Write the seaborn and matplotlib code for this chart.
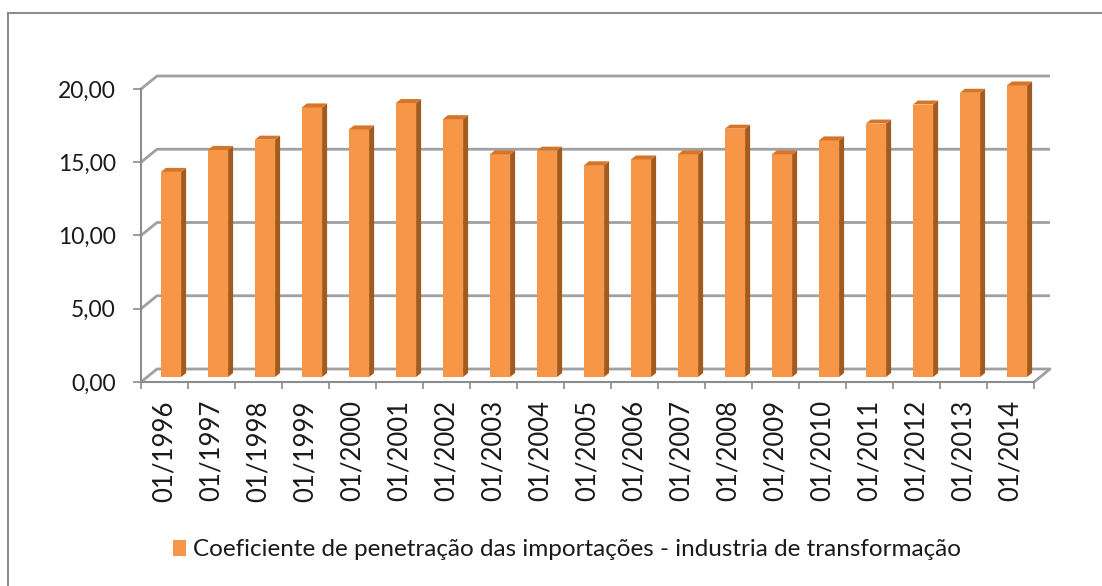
import matplotlib
matplotlib.use("Agg")
import matplotlib.pyplot as plt
import seaborn as sns
import numpy as np
import pandas as pd
from matplotlib.patches import Polygon, Rectangle

years = ["01/1996", "01/1997", "01/1998", "01/1999", "01/2000", "01/2001", "01/2002",
         "01/2003", "01/2004", "01/2005", "01/2006", "01/2007", "01/2008", "01/2009",
         "01/2010", "01/2011", "01/2012", "01/2013", "01/2014"]
values = [14.0, 15.5, 16.2, 18.4, 16.9, 18.7, 17.6, 15.2, 15.45, 14.45,
          14.85, 15.2, 16.95, 15.2, 16.15, 17.3, 18.6, 19.4, 19.9]
y_ticks = [0, 5, 10, 15, 20]
series_name = "Coeficiente de penetração das importações - industria de transformação"

FRONT = "#f79646"
SIDE = "#a35a1e"
TOP = "#d5752a"
GRID = "#a0a0a0"
AXIS = "#8c8c8c"
TEXT = "#1a1a1a"

W, H, DPI = 1102, 586, 100

sns.set_theme(style="white")
plt.rcParams["font.family"] = ["Lato", "DejaVu Sans"]

fig = plt.figure(figsize=(W / DPI, H / DPI), dpi=DPI)
fig.patch.set_facecolor("white")
ax = fig.add_axes([141 / W, (H - 382) / H, 893 / W, 293 / H])

df = pd.DataFrame({"ano": years, "valor": values})
sns.barplot(data=df, x="ano", y="valor", color=FRONT, saturation=1, width=0.43,
            linewidth=0, ax=ax, label=series_name, zorder=3)
ax.set_xlim(-0.5, len(years) - 0.5)
ax.set_ylim(0, 20)

# pixel offsets -> data units (fake 3d look)
ux = 893 / len(years)
uy = 293 / 20


def px(dx, dy):
    return dx / ux, dy / uy


bx, by = px(6.5, 5)
dx, dy = px(5, 4)
wx, wy = px(16, 13)

# back wall gridlines with left-side diagonals
x_left, x_right = -0.5, len(years) - 0.5
for v in y_ticks:
    ax.plot([x_left, x_left + wx, x_right + wx], [v, v + wy, v + wy],
            color=GRID, lw=2.0, zorder=1, clip_on=False, solid_capstyle="butt")
ax.plot([x_right, x_right + wx], [0, wy], color=GRID, lw=2.0, zorder=1, clip_on=False)

for p in ax.patches:
    x0, w, h = p.get_x(), p.get_width(), p.get_height()
    p.set_x(x0 + bx)
    p.set_y(by)
    p.set_clip_on(False)
    xa, xb = x0 + bx, x0 + bx + w
    side = Polygon([(xb, by), (xb, by + h), (xb + dx, by + h + dy), (xb + dx, by + dy)],
                   closed=True, facecolor=SIDE, edgecolor="none", zorder=3, clip_on=False)
    top = Polygon([(xa, by + h), (xb, by + h), (xb + dx, by + h + dy), (xa + dx, by + h + dy)],
                  closed=True, facecolor=TOP, edgecolor="none", zorder=3, clip_on=False)
    ax.add_patch(side)
    ax.add_patch(top)

for s in ["top", "right"]:
    ax.spines[s].set_visible(False)
for s in ["left", "bottom"]:
    ax.spines[s].set_color(AXIS)
    ax.spines[s].set_linewidth(1.5)
    ax.spines[s].set_zorder(4)

ax.set_yticks(y_ticks)
ax.set_yticklabels([f"{v:.2f}".replace(".", ",") for v in y_ticks])
ax.set_xticks(np.arange(-0.5, len(years)), minor=True)
ax.tick_params(left=True, bottom=True, which="both")
ax.tick_params(axis="y", length=6, width=1.2, color=AXIS, pad=12,
               labelsize=16.5, labelcolor=TEXT)
ax.tick_params(axis="x", which="major", length=0, pad=13, labelrotation=90,
               labelsize=18.5, labelcolor=TEXT)
ax.tick_params(axis="x", which="minor", length=5, width=1.2, color=AXIS)
ax.set_xlabel("")
ax.set_ylabel("")
ax.grid(False)

ax.legend(loc="center", bbox_to_anchor=(567 / W, (H - 550) / H),
          bbox_transform=fig.transFigure, frameon=False, handlelength=0.55,
          handleheight=0.65, handletextpad=0.3, fontsize=17.5, labelcolor=TEXT)

fig.add_artist(Rectangle((8 / W, -0.05), 1.2, 1 - 13 / H + 0.05, transform=fig.transFigure,
                         fill=False, edgecolor=AXIS, lw=1.5))

fig.savefig("out.png", dpi=DPI)
